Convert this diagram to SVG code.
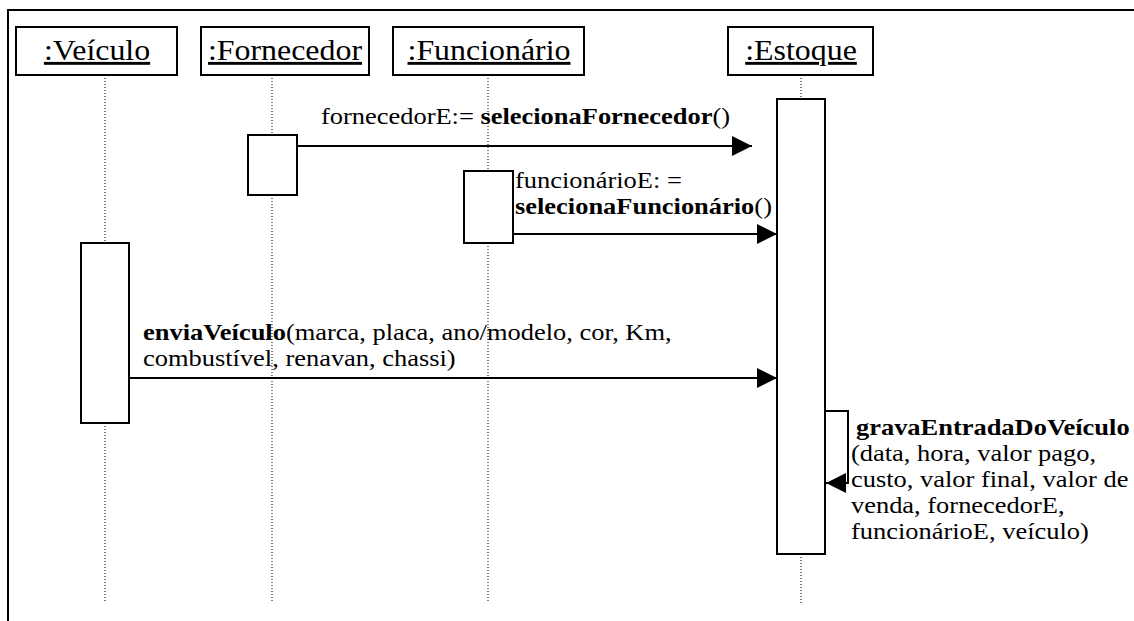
<svg xmlns="http://www.w3.org/2000/svg" width="1134" height="621" viewBox="0 0 1134 621">
  <style>
    .box { fill: #fff; stroke: #000; stroke-width: 2; }
    .life { fill: none; stroke: #000; stroke-width: 1; stroke-dasharray: 1 2; }
    .msg { fill: none; stroke: #000; stroke-width: 2; }
    .hd { font-family: "Liberation Serif", "Times New Roman", serif; font-size: 29px; text-anchor: middle; text-decoration: underline; fill: #000; }
    .tx { font-family: "Liberation Serif", "Times New Roman", serif; font-size: 23px; fill: #000; }
    .b { font-weight: bold; }
  </style>
  <defs>
    <marker id="ah" markerWidth="20" markerHeight="20" refX="20" refY="10" orient="auto" markerUnits="userSpaceOnUse">
      <path d="M0,0 L20,10 L0,20 z" fill="#000"/>
    </marker>
  </defs>
  <rect width="1134" height="621" fill="#fff"/>
  <!-- frame (open to the right and bottom) -->
  <path d="M8,621 V10 H1134" fill="none" stroke="#000" stroke-width="2"/>

  <!-- lifelines -->
  <g id="lifelines">
    <path class="life" d="M105,75 V243 M105,423 V603"/>
    <path class="life" d="M272,75 V135 M272,195 V603"/>
    <path class="life" d="M488,75 V171 M488,243 V603"/>
    <path class="life" d="M801,75 V99 M801,554 V603"/>
  </g>

  <g id="veiculo">
    <rect class="box" x="16" y="27" width="161" height="48"/>
    <text class="hd" transform="translate(97,60) scale(1.1,1)">:Veículo</text>
    <rect class="box" x="81" y="243" width="48" height="180"/>
  </g>
  <g id="fornecedor">
    <rect class="box" x="201" y="27" width="168" height="48"/>
    <text class="hd" transform="translate(285,60) scale(1.1,1)">:Fornecedor</text>
    <rect class="box" x="248" y="135" width="49" height="60"/>
  </g>
  <g id="funcionario">
    <rect class="box" x="393" y="27" width="191" height="48"/>
    <text class="hd" transform="translate(489,60) scale(1.1,1)">:Funcionário</text>
    <rect class="box" x="464" y="171" width="49" height="72"/>
  </g>
  <g id="estoque">
    <rect class="box" x="728" y="27" width="145" height="48"/>
    <text class="hd" transform="translate(801,60) scale(1.1,1)">:Estoque</text>
    <rect class="box" x="777" y="99" width="48" height="455"/>
  </g>

  <!-- messages -->
  <g id="connectors">
    <line class="msg" x1="297" y1="146" x2="752" y2="146" marker-end="url(#ah)"/>
    <line class="msg" x1="513" y1="234" x2="777" y2="234" marker-end="url(#ah)"/>
    <line class="msg" x1="129" y1="378" x2="777" y2="378" marker-end="url(#ah)"/>
    <path class="msg" d="M825,411 H848 V483 H826" marker-end="url(#ah)"/>
  </g>

  <!-- message labels -->
  <g id="labels">
    <text class="tx" transform="translate(321,124) scale(1.15,1)">fornecedorE:= <tspan class="b">selecionaFornecedor</tspan>()</text>
    <text class="tx" transform="translate(515,188) scale(1.15,1)">funcionárioE: =</text>
    <text class="tx" transform="translate(515,214) scale(1.15,1)"><tspan class="b">selecionaFuncionário</tspan>()</text>
    <text class="tx" transform="translate(143,340) scale(1.15,1)"><tspan class="b">enviaVeículo</tspan>(marca, placa, ano/modelo, cor, Km,</text>
    <text class="tx" transform="translate(143,366) scale(1.15,1)">combustível, renavan, chassi)</text>
    <text class="tx b" transform="translate(856,435) scale(1.15,1)">gravaEntradaDoVeículo</text>
    <text class="tx" transform="translate(851,461) scale(1.15,1)">(data, hora, valor pago,</text>
    <text class="tx" transform="translate(851,487) scale(1.15,1)">custo, valor final, valor de</text>
    <text class="tx" transform="translate(851,513) scale(1.15,1)">venda, fornecedorE,</text>
    <text class="tx" transform="translate(851,539) scale(1.15,1)">funcionárioE, veículo)</text>
  </g>
</svg>
